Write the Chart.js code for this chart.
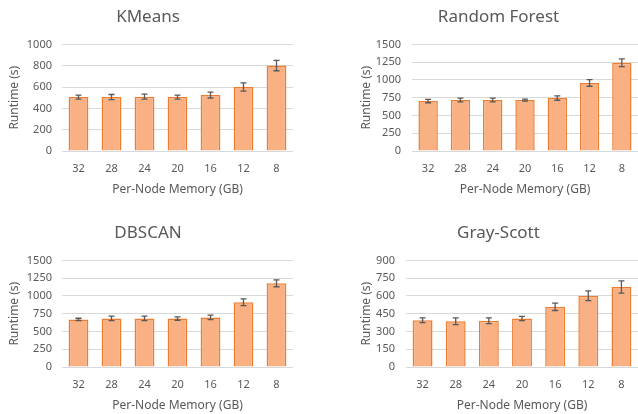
<!DOCTYPE html>
<html>
<head>
<meta charset="utf-8">
<script src="https://cdn.jsdelivr.net/npm/chart.js@4.4.1/dist/chart.umd.min.js"></script>
<style>
  html, body { margin: 0; padding: 0; background: #fff; width: 638px; height: 414px; overflow: hidden; }
  .panel { position: absolute; width: 319px; height: 207px; }
</style>
</head>
<body>
<div class="panel" style="left:0;top:0"><canvas id="kmeans" width="319" height="207"></canvas></div>
<div class="panel" style="left:319px;top:0"><canvas id="rf" width="319" height="207"></canvas></div>
<div class="panel" style="left:0;top:216px"><canvas id="dbscan" width="319" height="207"></canvas></div>
<div class="panel" style="left:319px;top:216px"><canvas id="grayscott" width="319" height="207"></canvas></div>
<script>
// per-node memory (GB) on the x axis
const memLabels = ['32', '28', '24', '20', '16', '12', '8'];

// runtime (s) and error half-widths
const kmeansRuntime = [506, 506, 510, 506, 525, 601, 802];
const kmeansErr     = [19, 24, 24, 19, 28, 39, 49];

const rfRuntime = [703, 717, 717, 717, 745, 958, 1241];
const rfErr     = [24, 26, 26, 14, 31, 47, 54];

const dbscanRuntime = [670, 684, 684, 682, 698, 912, 1178];
const dbscanErr     = [16, 31, 31, 24, 31, 47, 49];

const gsRuntime = [395, 386, 391, 410, 508, 602, 675];
const gsErr     = [20, 28, 24, 18, 31, 41, 52];

const FONT = "'Noto Sans', 'DejaVu Sans', sans-serif";
const TXT = '#595959';

// draws the error whiskers using the chart's own scales
const errorBars = {
  id: 'errorBars',
  afterDatasetsDraw(chart) {
    const ctx = chart.ctx;
    const y = chart.scales.y;
    const ds = chart.data.datasets[0];
    const meta = chart.getDatasetMeta(0);
    ctx.save();
    ctx.strokeStyle = '#595959';
    ctx.lineWidth = 1.3;
    meta.data.forEach((bar, i) => {
      const v = ds.data[i], e = ds.errors[i];
      const yt = y.getPixelForValue(v + e);
      const yb = y.getPixelForValue(v - e);
      ctx.beginPath();
      ctx.moveTo(bar.x, yt); ctx.lineTo(bar.x, yb);
      ctx.moveTo(bar.x - 3, yt); ctx.lineTo(bar.x + 3, yt);
      ctx.moveTo(bar.x - 3, yb); ctx.lineTo(bar.x + 3, yb);
      ctx.stroke();
    });
    ctx.restore();
  }
};

function drawgraph(id, title, values, errors, yMax, step, side, yWidth) {
  const left = side === 'left';
  new Chart(document.getElementById(id), {
    type: 'bar',
    data: {
      labels: memLabels,
      datasets: [{
        data: values,
        errors: errors,
        backgroundColor: '#F9B184',
        borderColor: '#ED7D31',
        borderWidth: 1.5,
        barPercentage: 0.6,
        categoryPercentage: 1.0
      }]
    },
    options: {
      responsive: false,
      animation: false,
      layout: { padding: { left: left ? 3 : 40, right: left ? 26 : 0, top: 0, bottom: 6 } },
      plugins: {
        legend: { display: false },
        tooltip: { enabled: false },
        title: {
          display: true,
          text: title,
          color: TXT,
          font: { family: FONT, size: 17, weight: 'normal' },
          padding: { top: 7, bottom: 17 }
        }
      },
      scales: {
        x: {
          grid: { display: false, drawTicks: false },
          border: { display: false },
          ticks: { color: TXT, font: { family: FONT, size: 11 }, padding: 11 },
          title: {
            display: true, text: 'Per-Node Memory (GB)', color: TXT,
            font: { family: FONT, size: 12 }, padding: { top: 6, bottom: 4 }
          },
          afterFit(s) { s.height = 50; }
        },
        y: {
          min: 0, max: yMax,
          grid: { color: '#D9D9D9', lineWidth: 1, drawTicks: false },
          border: { display: false },
          ticks: {
            stepSize: step, color: TXT, font: { family: FONT, size: 11 },
            padding: left ? 10 : 11,
            callback: v => String(v)
          },
          title: {
            display: true, text: 'Runtime (s)', color: TXT,
            font: { family: FONT, size: 12 }, padding: { top: left ? 4 : 0, bottom: 4 }
          },
          afterFit(s) { s.width = yWidth; }
        }
      }
    },
    plugins: [errorBars]
  });
}

drawgraph('kmeans', 'KMeans', kmeansRuntime, kmeansErr, 1000, 200, 'left', 59);
drawgraph('rf', 'Random Forest', rfRuntime, rfErr, 1500, 250, 'right', 53);
drawgraph('dbscan', 'DBSCAN', dbscanRuntime, dbscanErr, 1500, 250, 'left', 59);
drawgraph('grayscott', 'Gray-Scott', gsRuntime, gsErr, 900, 150, 'right', 47);
</script>
</body>
</html>
